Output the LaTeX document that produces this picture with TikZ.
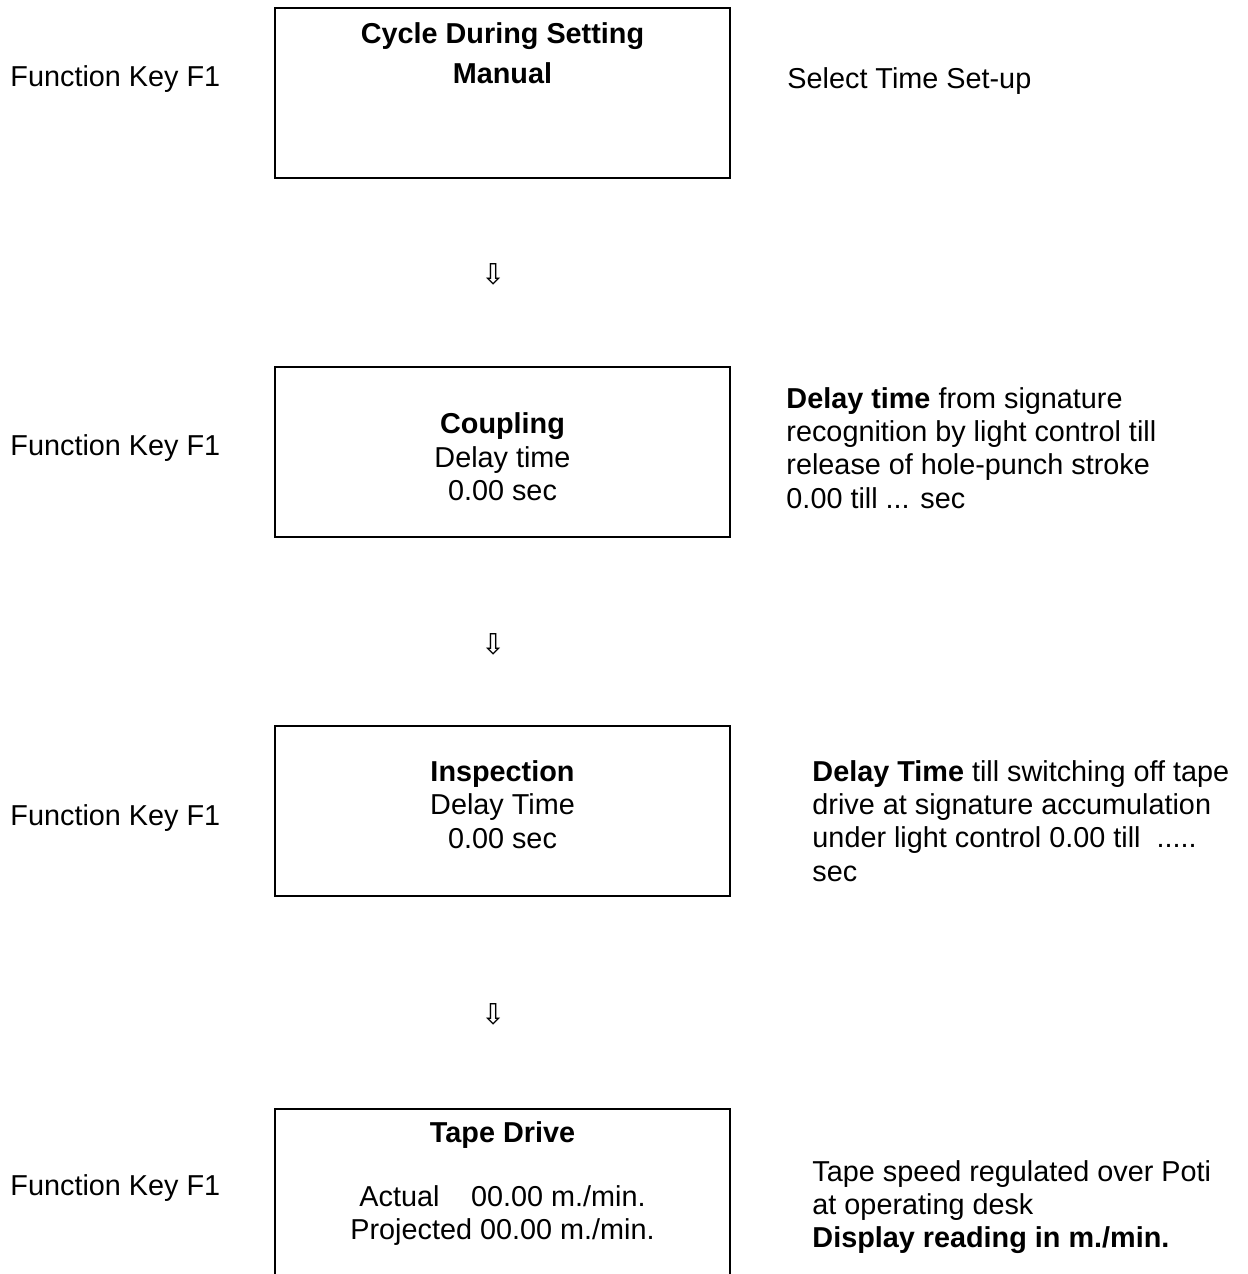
\documentclass[tikz,border=0pt]{standalone}
\usepackage{fontspec}
\setmainfont{Liberation Sans}
\newfontfamily\arrowfont{DejaVu Sans}
\usetikzlibrary{positioning}

\tikzset{
  screen/.style={draw, line width=0.8pt, minimum width=189.6pt, minimum height=70.8pt, inner sep=0pt, outer sep=0pt},
  screentext/.style={align=center, inner sep=0pt, font=\fontsize{12}{13.9}\selectfont},
  keylabel/.style={anchor=base west, inner sep=0pt, font=\fontsize{12}{13.9}\selectfont},
  remark/.style={anchor=north west, align=left, inner sep=0pt, font=\fontsize{12}{13.9}\selectfont},
  nextstep/.style={inner sep=0pt, font=\arrowfont\fontsize{12}{12}\selectfont}
}

\begin{document}
\begin{tikzpicture}[x=0.41667pt, y=0.41667pt]
\useasboundingbox (0,0) rectangle (1248,-1274);
\clip (0,0) rectangle (1248,-1274);

% display screens, top to bottom
\node (cycle) [screen] at (502.5,-93) {};
\node (coupling) [screen, below=78.75pt of cycle] {};
\node (inspection) [screen, below=78.75pt of coupling] {};
\node (tape) [screen, below=88.75pt of inspection, minimum height=83.3pt] {};

% screen contents
\node (cycletxt) [screentext, below=5.7pt of cycle.north] {\textbf{Cycle During Setting}\\[2.8pt]\textbf{Manual}};
\node (couplingtxt) [screentext, below=19pt of coupling.north] {\textbf{Coupling}\\Delay time\\0.00 sec};
\node (inspectiontxt) [screentext, below=14.3pt of inspection.north] {\textbf{Inspection}\\Delay Time\\0.00 sec};
\node (tapetxt) [screentext, below=5.3pt of tape.north] {\textbf{Tape Drive}\\[12.5pt]Actual\hspace{1.1em}00.00 m./min.\\Projected 00.00 m./min.};

% steps between screens
\node (next1) [nextstep] at (494,-274) {⇩};
\node (next2) [nextstep] at (494,-644) {⇩};
\node (next3) [nextstep] at (494,-1014) {⇩};

% keys on the left
\node (key1) [keylabel] at (10,-86) {Function Key F1};
\node (key2) [keylabel] at (10,-455) {Function Key F1};
\node (key3) [keylabel] at (10,-825) {Function Key F1};
\node (key4) [keylabel] at (10,-1195) {Function Key F1};

% notes on the right
\node (setupnote) [remark] at (787,-66.7) {Select Time Set-up};
\node (couplingnote) [remark] at (786,-386.7) {\textbf{Delay time} from signature\\recognition by light control till\\release of hole-punch stroke\\0.00 till ... sec};
\node (inspectionnote) [remark] at (812,-759.7) {\textbf{Delay Time} till switching off tape\\drive at signature accumulation\\under light control 0.00 till\ \ .....\\sec};
\node (tapenote) [remark] at (812,-1159.7) {Tape speed regulated over Poti\\at operating desk\\\textbf{Display reading in m./min.}};
\end{tikzpicture}
\end{document}
